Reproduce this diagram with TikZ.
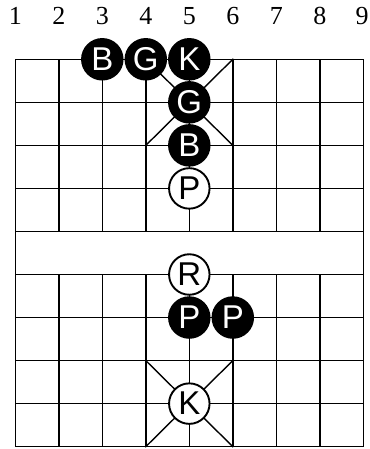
\documentclass[tikz,border=0pt]{standalone}
\usepackage{fontspec}
\newfontfamily\piecefont{Liberation Sans}
\newfontfamily\numfont{Liberation Serif}
\begin{document}
\begin{tikzpicture}[
  gridline/.style={line width=1.4pt, line cap=rect},
  blackpc/.style={circle, fill=black, text=white, minimum size=42.5pt, inner sep=0pt, font={\piecefont\fontsize{33pt}{33pt}\selectfont}},
  redpc/.style={circle, fill=white, draw=black, line width=1.9pt, text=black, minimum size=40.5pt, inner sep=0pt, font={\piecefont\fontsize{33pt}{33pt}\selectfont}},
  filenum/.style={font={\numfont\fontsize{26pt}{26pt}\selectfont}, inner sep=0pt, anchor=base}
]
\useasboundingbox (0pt,0pt) rectangle (369pt,449pt);
\begin{scope}[shift={(15.3pt,389.7pt)}, x=43.5pt, y=-43.04pt]
  % horizontal lines
  \foreach \r in {0,...,9} \draw[gridline] (0,\r) -- (8,\r);
  % side edges
  \draw[gridline] (0,0) -- (0,9);
  \draw[gridline] (8,0) -- (8,9);
  % inner verticals
  \foreach \c in {1,...,7} {
    \draw[gridline] (\c,0) -- (\c,4);
    \draw[gridline] (\c,5) -- (\c,9);
  }
  % palaces
  \draw[gridline] (3,0) -- (5,2);
  \draw[gridline] (5,0) -- (3,2);
  \draw[gridline] (3,7) -- (5,9);
  \draw[gridline] (5,7) -- (3,9);
  % file numbers
  \foreach \c in {1,...,8} \node[filenum] (n\c) at (\c-1,-0.797) {\c};
  \node[filenum] (n9) at (7.97,-0.797) {9};
  % black pieces
  \node[blackpc] (bB1) at (2,0) {B};
  \node[blackpc] (bG1) at (3,0) {G};
  \node[blackpc] (bK)  at (4,0) {K};
  \node[blackpc] (bG2) at (4,1) {G};
  \node[blackpc] (bB2) at (4,2) {B};
  \node[blackpc] (bP1) at (4,6) {P};
  \node[blackpc] (bP2) at (5,6) {P};
  % red pieces
  \node[redpc] (rP) at (4,3) {P};
  \node[redpc] (rR) at (4,5) {R};
  \node[redpc] (rK) at (4,8) {K};
\end{scope}
\end{tikzpicture}
\end{document}
